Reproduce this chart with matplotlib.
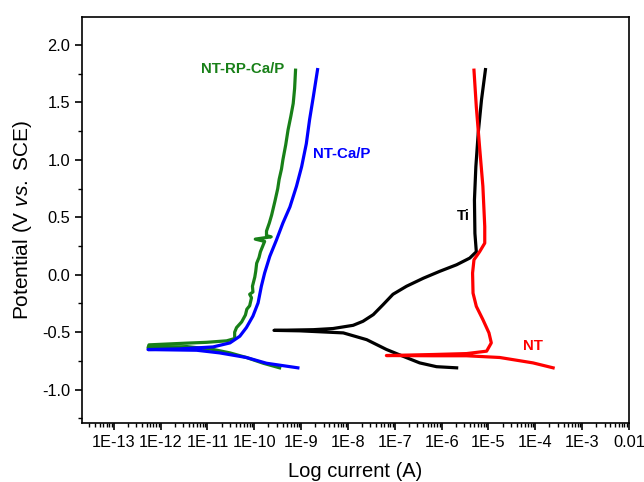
import numpy as np
import matplotlib
matplotlib.use('Agg')
import matplotlib.pyplot as plt
from matplotlib.ticker import LogLocator, MultipleLocator, FuncFormatter, NullFormatter

plt.rcParams['font.family'] = ['Liberation Sans', 'DejaVu Sans']
plt.rcParams['mathtext.fontset'] = 'custom'
plt.rcParams['mathtext.it'] = 'Liberation Sans:italic'
plt.rcParams['mathtext.rm'] = 'Liberation Sans'

# Tafel scans: log10 of current (A) and potential (V vs SCE), cathodic end first
ti_logi = [-5.68, -6.11, -6.47, -6.82, -7.18, -7.60, -8.10, -9.03, -9.58, -8.74,
           -8.32, -7.89, -7.68, -7.46, -7.25, -7.04, -6.75, -6.39, -6.04, -5.68,
           -5.40, -5.26, -5.29, -5.30, -5.27, -5.22, -5.15, -5.065]
ti_e = [-0.81, -0.80, -0.767, -0.71, -0.65, -0.565, -0.506, -0.488, -0.484, -0.478,
        -0.468, -0.44, -0.405, -0.347, -0.26, -0.17, -0.10, -0.03, 0.03, 0.087,
        0.145, 0.20, 0.36, 0.65, 0.94, 1.23, 1.52, 1.785]

nt_logi = [-3.62, -4.05, -4.76, -5.47, -6.18, -7.18, -6.18, -5.47, -5.04, -4.94,
           -4.99, -5.12, -5.26, -5.33, -5.34, -5.31, -5.19, -5.08, -5.08, -5.12,
           -5.19, -5.26, -5.31]
nt_e = [-0.81, -0.767, -0.72, -0.705, -0.705, -0.703, -0.694, -0.686, -0.665, -0.593,
        -0.506, -0.39, -0.275, -0.16, 0.015, 0.13, 0.20, 0.275, 0.42, 0.77,
        1.11, 1.46, 1.78]

ntcap_logi = [-9.07, -9.74, -10.17, -10.74, -11.23, -12.27, -11.59, -10.88, -10.52, -10.31,
              -10.17, -10.03, -9.92, -9.85, -9.78, -9.67, -9.53, -9.39, -9.24, -9.10,
              -8.99, -8.89, -8.82, -8.74, -8.65]
ntcap_e = [-0.81, -0.77, -0.72, -0.68, -0.657, -0.651, -0.645, -0.628, -0.593, -0.535,
           -0.46, -0.36, -0.245, -0.10, 0.015, 0.16, 0.30, 0.45, 0.59, 0.77,
           0.94, 1.14, 1.35, 1.55, 1.785]

ntrp_logi = [-9.46, -9.81, -10.17, -10.52, -10.88, -11.44, -12.27, -12.25, -11.44, -11.02,
             -10.59, -10.42, -10.42, -10.38, -10.27, -10.19, -10.16, -10.10, -10.06, -10.10,
             -10.03, -10.04, -9.99, -9.97, -9.95, -9.90, -9.87, -9.82, -9.78, -9.98,
             -9.64, -9.74, -9.74, -9.68, -9.63, -9.56, -9.50, -9.47, -9.42, -9.39,
             -9.33, -9.28, -9.22, -9.17, -9.14, -9.12]
ntrp_e = [-0.81, -0.77, -0.72, -0.68, -0.65, -0.625, -0.636, -0.61, -0.595, -0.588,
          -0.575, -0.555, -0.50, -0.46, -0.41, -0.35, -0.30, -0.27, -0.20, -0.17,
          -0.15, -0.10, -0.02, 0.03, 0.10, 0.15, 0.20, 0.25, 0.29, 0.31,
          0.33, 0.34, 0.38, 0.45, 0.52, 0.64, 0.75, 0.83, 0.92, 1.00,
          1.13, 1.26, 1.38, 1.49, 1.62, 1.78]

fig = plt.figure(figsize=(6.44, 4.82), dpi=100)
ax = fig.add_axes([0.1273, 0.1224, 0.8494, 0.8417])

lw = 2.3
green = '#188018'
ax.plot(10 ** np.array(ntrp_logi), ntrp_e, color=green, lw=lw, solid_joinstyle='round')
ax.plot(10 ** np.array(ntcap_logi), ntcap_e, color='#0000ff', lw=lw, solid_joinstyle='round')
ax.plot(10 ** np.array(ti_logi), ti_e, color='black', lw=lw, solid_joinstyle='round')
ax.plot(10 ** np.array(nt_logi), nt_e, color='#ff0000', lw=lw, solid_joinstyle='round')

# curve labels
ax.text(10 ** -10.25, 1.79, 'NT-RP-Ca/P', color=green, fontsize=10.8,
        fontweight='bold', ha='center', va='center')
ax.text(10 ** -8.75, 1.05, 'NT-Ca/P', color='#0000ff', fontsize=10.8,
        fontweight='bold', ha='left', va='center')
ax.text(10 ** -5.53, 0.51, 'Ti', color='black', fontsize=10.8,
        fontweight='bold', ha='center', va='center')
ax.text(10 ** -4.06, -0.62, 'NT', color='#ff0000', fontsize=10.8,
        fontweight='bold', ha='center', va='center')

ax.set_xscale('log')
ax.set_xlim(10 ** -13.68, 1e-2)
ax.set_ylim(-1.29, 2.24)

ax.xaxis.set_major_locator(LogLocator(base=10, numticks=20))
ax.xaxis.set_minor_locator(LogLocator(base=10, subs=np.arange(2, 10), numticks=20))
ax.xaxis.set_minor_formatter(NullFormatter())


def sci_label(x, pos):
    e = int(round(np.log10(x)))
    return '0.01' if e == -2 else '1E%d' % e


ax.xaxis.set_major_formatter(FuncFormatter(sci_label))
ax.yaxis.set_major_locator(MultipleLocator(0.5))
ax.yaxis.set_minor_locator(MultipleLocator(0.25))
ax.yaxis.set_major_formatter(FuncFormatter(lambda v, p: '%.1f' % v))

ax.tick_params(which='major', direction='out', length=5, width=1.2, labelsize=11.8,
               top=False, right=False)
ax.tick_params(which='minor', direction='out', length=3, width=1.0, top=False, right=False)
for s in ax.spines.values():
    s.set_linewidth(1.2)

ax.set_xlabel('Log current (A)', fontsize=14.5, labelpad=9)
ax.set_ylabel('Potential (V $\\it{vs.}$ SCE)', fontsize=15, labelpad=6)

fig.savefig('out.png', dpi=100)
